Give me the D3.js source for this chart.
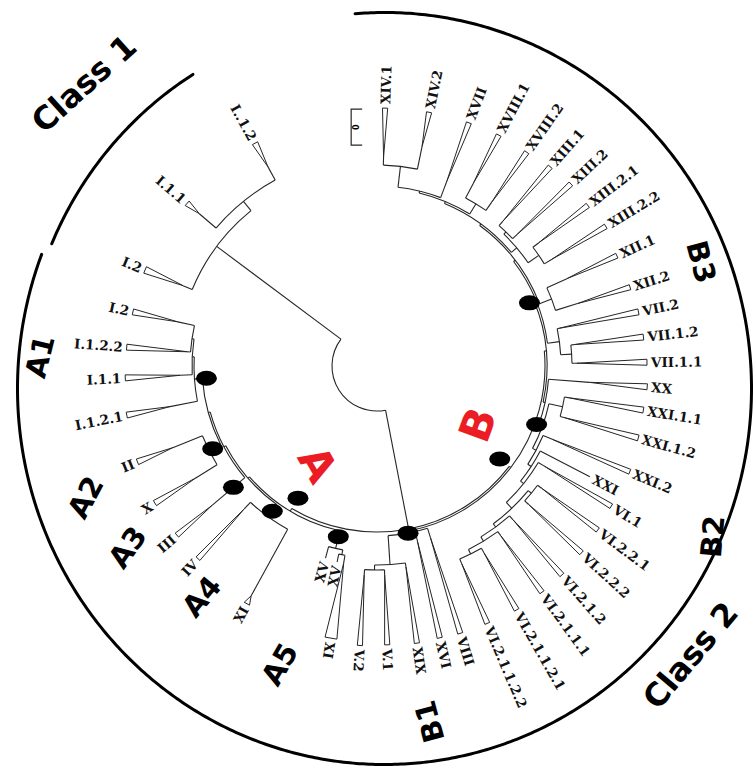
<!DOCTYPE html>
<html>
<head>
<meta charset="utf-8">
<script src="https://cdn.jsdelivr.net/npm/d3@7"></script>
<style>
  html, body { margin: 0; padding: 0; background: #fff; }
  svg { display: block; }
</style>
</head>
<body>
<svg id="chart" width="755" height="772"></svg>
<script>
// ---------------------------------------------------------------
// Circular dendrogram of clusters I..XXI (two classes, clades A/B)
// Angles: degrees, 0 = east, increasing clockwise.
// Distances: branch length from the root (tree units).
// ---------------------------------------------------------------

// Leaves, in clockwise order
const leafNames = [
  "XIV.1", "XIV.2", "XVII", "XVIII.1", "XVIII.2", "XIII.1", "XIII.2", "XIII.2.1",
  "XIII.2.2", "XII.1", "XII.2", "VII.2", "VII.1.2", "VII.1.1", "XX", "XXI.1.1",
  "XXI.1.2", "XXI.2", "XXI", "VI.1", "VI.2.2.1", "VI.2.2.2", "VI.2.1.2", "VI.2.1.1.1",
  "VI.2.1.1.2.1", "VI.2.1.1.2.2", "VIII", "XVI", "XIX", "V.1", "V.2", "IX",
  "XV", "XV", "XI", "IV", "III", "X", "II", "I.1.2.1",
  "I.1.1", "I.1.2.2", "I.2", "I.2", "I.1.1", "I..1.2"
];
const leafAngles = [
  -88.2, -78.4, -69.3, -62.2, -55.0, -49.0, -43.2, -37.3,
  -31.4, -24.7, -17.3, -11.7, -6.2, -0.8, 4.4, 9.4,
  15.4, 22.7, 27.5, 30.9, 36.6, 42.4, 48.5, 53.9,
  60.2, 66.8, 72.7, 77.0, 81.8, 87.9, 93.5, 99.6,
  101.5, 105.0, 118.7, 132.9, 139.8, 148.3, 158.2, 168.9,
  177.3, 184.3, 192.5, 202.5, 220.6, 241.3
];
const leafParents = [
  "XIV", "XIV", "B3w", "XVIII", "XVIII", "XIIIa", "XIIIa", "XIIIb",
  "XIIIb", "XII", "XII", "VII", "VII.1", "VII.1", "B2", "XXI.1",
  "XXI.1", "B2b", "B2c", "VI", "VI.2.2", "VI.2.2", "VI.2.1", "VI.2.1.1",
  "VI.2.1.1.2", "VI.2.1.1.2", "B1", "B1", "B1a", "Vn", "Vn", "A5b",
  "A5b", "A5", "A4", "A4", "A3p", "A2", "A2", "A1",
  "A1b", "A1c", "A1c", "Class1", "C1b", "C1b"
];
// where each collapsed clade (triangle) starts and ends
const leafStart = [
  164, 179, 153, 162, 155, 147, 147, 158,
  160, 164, 165, 141, 153, 155, 168, 150,
  150, 145, 195, 150, 160, 160, 160, 165,
  170, 170, 135, 135, 158, 164, 164, 155,
  155, 154, 217, 150, 171, 168, 175, 166,
  152, 145, 159, 165, 189, 182
];
const leafEnd = [
  213, 214, 215, 216, 216, 219, 221, 220,
  223, 219, 220, 222, 223, 225, 226, 225,
  226, 229, 195, 228, 230, 232, 234, 235,
  236, 235, 235, 234, 235, 234, 235, 231,
  155, 154, 226, 218, 217, 216, 213, 210,
  207, 206, 205, 206, 205, 209
];
// half-width of the triangle base
const leafSpread = [
  2.6, 2.6, 2.6, 2.6, 2.6, 2.6, 2.6, 2.6,
  2.6, 2.6, 2.6, 3, 3, 3, 3, 3,
  3, 2.6, 0, 2.6, 2.6, 2.6, 2.6, 2.6,
  2.6, 2.6, 2.6, 2.6, 2.6, 2.6, 2.6, 6,
  0, 0, 3, 2.6, 2.6, 3, 3, 3,
  3, 3, 3, 3.5, 3, 3
];

// Internal nodes
const nodeIds = [
  "Class1", "C1b", "N0", "Aclade", "A5", "A5b", "A4p", "A4", "A3p", "A21",
  "A2", "A1", "A1b", "A1c", "Ball", "B1", "B1a", "Vn", "B23", "B3",
  "B3x", "B3y", "B3z", "B3w", "XIV", "XVIII", "XIIIn", "XIIIa", "XIIIb", "XII",
  "VII", "VII.1", "B2", "B2a", "XXI.1", "B2b", "B2c", "VI", "VI.2", "VI.2.2",
  "VI.2.1", "VI.2.1.1", "VI.2.1.1.2"
];
const nodeParents = [
  "root", "Class1", "root", "N0", "Aclade", "A5", "Aclade", "A4p", "A4p", "A3p",
  "A21", "A21", "A1", "A1b", "N0", "Ball", "B1", "B1a", "Ball", "B23",
  "B3", "B3x", "B3y", "B3z", "B3w", "B3z", "B3y", "XIIIn", "XIIIn", "B3x",
  "B3", "VII", "B23", "B2", "B2a", "B2a", "B2b", "B2c", "VI", "VI.2",
  "VI.2", "VI.2.1", "VI.2.1.1"
];
const nodeDists = [
  155, 167, 121, 124, 142, 147, 126, 141, 128, 130,
  143, 138, 140, 142, 123, 125, 154, 159, 125, 127,
  129, 131, 133, 135, 156, 145, 138, 141, 151, 142,
  139, 150, 127, 131, 145, 135, 139, 143, 151, 155,
  155, 160, 165
];

// Supported clades (black markers) and where they sit along the radius
const markedClades = ["Aclade", "Ball", "B1", "B2a", "B3", "A1", "A2", "leaf36", "A4", "A5"];
const markerDists = [109, 109, 125, 125, 120, 126, 139, 143, 134, 130];

// Scale bar length (tree units) and its label
const scaleBarLength = 36;
const scaleBarLabel = "0";

// Outer class brackets (parametric angle on the bracket ellipse, degrees)
const classNames = ["Class 1", "Class 2"];
const classStart = [203, -94.6];
const classEnd = [238, 201];
const classInset = [0.985, 1];

// Group captions: text, polar position around the bracket centre, tilt, size, colour
const captionText = ["Class 1", "Class 2", "A1", "A2", "A3", "A4", "A5", "B1", "B2", "B3", "A", "B"];
const captionAngle = [225.4, 41.1, 185.3, 160.0, 148.3, 131.3, 110.8, 82.3, 24.3, -21.8, 131.4, 21.2];
const captionDist = [428, 406, 346, 318, 302, 277, 295, 336, 360, 341, 101, 100];
const captionTilt = [-42, -50, -76, -62, -55, -50, -60, -105, -85, 75, 60, -70];
const captionSize = [32, 32, 29, 29, 29, 29, 29, 29, 29, 29, 43, 43];
const captionColor = ["#000", "#000", "#000", "#000", "#000", "#000", "#000", "#000", "#000", "#000", "#ec1c24", "#ec1c24"];

// ---------------------------------------------------------------
const svg = d3.select("#chart");
const cx = 377, cy = 366;                       // tree origin
const ringCx = 384.5, ringCy = 388.5;           // bracket ellipse centre
const ringRx = 367, ringRy = 376;
const ink = "#262626";

const rScale = d3.scaleLinear().domain([0, 240]).range([45, 285]);
const rad = d => d * Math.PI / 180;
const polar = (a, r, ox = cx, oy = cy) => [ox + r * Math.cos(rad(a)), oy + r * Math.sin(rad(a))];

// hierarchy
const rows = [{ id: "root", parentId: null, dist: 0 }];
nodeIds.forEach((id, i) => rows.push({ id, parentId: nodeParents[i], dist: nodeDists[i] }));
leafNames.forEach((n, i) => rows.push({ id: "leaf" + i, parentId: leafParents[i], leaf: i, dist: leafStart[i] }));
const root = d3.stratify()(rows);

root.eachAfter(n => {
  if (n.data.leaf != null) {
    n.angle = leafAngles[n.data.leaf];
  } else {
    const as = n.children.map(c => c.angle);
    n.a0 = d3.min(as); n.a1 = d3.max(as);
    n.angle = (n.a0 + n.a1) / 2;
  }
});

const gTree = svg.append("g");

// connecting arcs of internal nodes
root.descendants().filter(n => n.children).forEach(n => {
  const p = d3.path();
  p.arc(cx, cy, rScale(n.data.dist), rad(n.a0), rad(n.a1));
  gTree.append("path").attr("d", p.toString())
    .attr("fill", "none").attr("stroke", ink).attr("stroke-width", 1.1);
});

// radial branches
root.descendants().filter(n => n.parent).forEach(n => {
  const [x1, y1] = polar(n.angle, rScale(n.parent.data.dist));
  const [x2, y2] = polar(n.angle, rScale(n.data.dist));
  gTree.append("line").attr("x1", x1).attr("y1", y1).attr("x2", x2).attr("y2", y2)
    .attr("stroke", ink).attr("stroke-width", 1.1);
});

// collapsed clades
root.leaves().forEach(n => {
  const i = n.data.leaf;
  const a = n.angle, hw = leafSpread[i];
  const r0 = rScale(leafStart[i]), r1 = rScale(leafEnd[i]);
  if (r1 > r0) {
    const [ax, ay] = polar(a, r0);
    const [tx, ty] = polar(a, r1);
    const nx = -Math.sin(rad(a)), ny = Math.cos(rad(a));
    const tri = d3.path();
    tri.moveTo(ax, ay);
    tri.lineTo(tx + nx * hw, ty + ny * hw);
    tri.lineTo(tx - nx * hw, ty - ny * hw);
    tri.closePath();
    gTree.append("path").attr("d", tri.toString())
      .attr("fill", "#fff").attr("stroke", ink).attr("stroke-width", 1)
      .attr("stroke-linejoin", "miter");
  }
});

// leaf labels
const gLab = svg.append("g")
  .attr("font-family", "'DejaVu Serif', 'Liberation Serif', serif")
  .attr("font-weight", "bold").attr("font-size", 13.5).attr("fill", "#111");
root.leaves().forEach(n => {
  const i = n.data.leaf;
  const a = n.angle;
  const flip = a > 96 && a < 270;
  const [x, y] = polar(a, rScale(leafEnd[i]) + 4);
  gLab.append("text")
    .attr("transform", `translate(${x},${y}) rotate(${flip ? a - 180 : a})`)
    .attr("text-anchor", flip ? "end" : "start")
    .attr("dominant-baseline", "central")
    .text(leafNames[i]);
});

// support markers
const byId = new Map(root.descendants().map(n => [n.id, n]));
markedClades.forEach((id, k) => {
  const n = byId.get(id);
  const [x, y] = polar(n.angle, rScale(markerDists[k]));
  svg.append("ellipse").attr("cx", x).attr("cy", y).attr("rx", 10.5).attr("ry", 7.5).attr("fill", "#000");
});

// scale bar, drawn radially just left of XIV.1
{
  const a = -95.3;
  const len = rScale(scaleBarLength) - rScale(0);
  const [bx, by] = polar(a, rScale(leafEnd[0]));
  const g = svg.append("g").attr("transform", `translate(${bx - 2},${by})`);
  const p = d3.path();
  p.moveTo(11, 0); p.lineTo(0, 0); p.lineTo(0, len); p.lineTo(11, len);
  g.append("path").attr("d", p.toString()).attr("fill", "none")
    .attr("stroke", ink).attr("stroke-width", 1.2);
  g.append("text").attr("transform", `translate(5,${len / 2}) rotate(-90)`)
    .attr("text-anchor", "middle").attr("dominant-baseline", "central")
    .attr("font-family", "'DejaVu Sans', sans-serif").attr("font-weight", "bold")
    .attr("font-size", 8).text(scaleBarLabel);
}

// class brackets
const ellipseLine = d3.line();
classNames.forEach((c, i) => {
  const ts = d3.range(classStart[i], classEnd[i] + 0.01, 0.5);
  const pts = ts.map(t => [ringCx + ringRx * classInset[i] * Math.cos(rad(t)),
                           ringCy + ringRy * classInset[i] * Math.sin(rad(t))]);
  svg.append("path").attr("d", ellipseLine(pts)).attr("fill", "none")
    .attr("stroke", "#000").attr("stroke-width", 3).attr("stroke-linecap", "round");
});

// captions
captionText.forEach((t, i) => {
  const [x, y] = polar(captionAngle[i], captionDist[i], ringCx, ringCy);
  svg.append("text")
    .attr("transform", `translate(${x},${y}) rotate(${captionTilt[i]})`)
    .attr("text-anchor", "middle").attr("dominant-baseline", "central")
    .attr("font-family", "'DejaVu Sans', Verdana, sans-serif").attr("font-weight", "bold")
    .attr("font-size", captionSize[i]).attr("fill", captionColor[i])
    .text(t);
});
</script>
</body>
</html>
